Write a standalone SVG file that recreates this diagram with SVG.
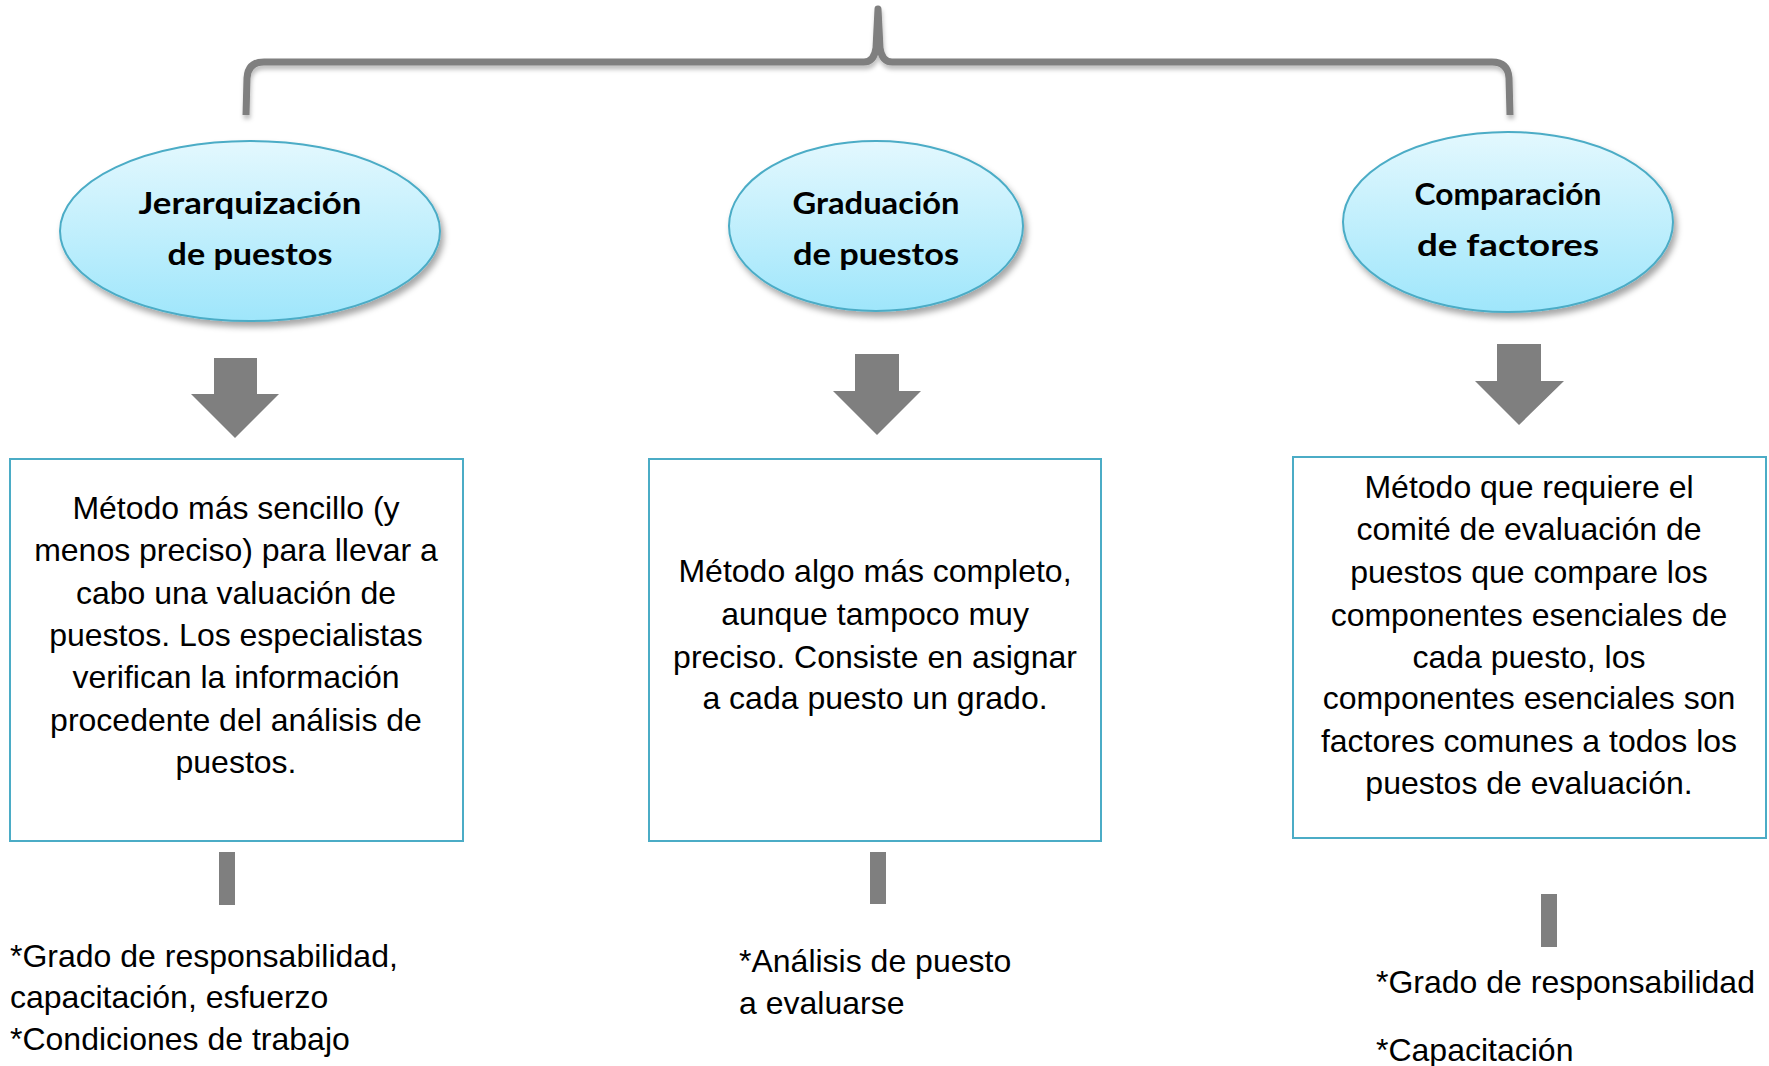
<svg xmlns="http://www.w3.org/2000/svg" width="1769" height="1066" viewBox="0 0 1769 1066">
<defs>
<linearGradient id="ell" x1="0" y1="0" x2="0" y2="1">
<stop offset="0" stop-color="#E3F8FE"/>
<stop offset="1" stop-color="#9FE6FB"/>
</linearGradient>
<filter id="sh" x="-10%" y="-10%" width="125%" height="130%">
<feDropShadow dx="3" dy="5" stdDeviation="3" flood-color="#000" flood-opacity="0.35"/>
</filter>
<filter id="lsh" x="-5%" y="-20%" width="110%" height="160%">
<feDropShadow dx="1" dy="4" stdDeviation="2" flood-color="#000" flood-opacity="0.25"/>
</filter>
</defs>
<style>
.ell{fill:url(#ell);stroke:#4BACC6;stroke-width:2;filter:url(#sh)}
.box{fill:#fff;stroke:#4BACC6;stroke-width:2}
.arr{fill:#7F7F7F}
.bar{fill:#7F7F7F}
.t{font-family:"Comic Sans MS","Lato","Liberation Sans",sans-serif;font-weight:bold;font-size:31px;fill:#000;text-anchor:middle}
.b{font-family:"Liberation Sans",Arial,sans-serif;font-size:32px;fill:#000;text-anchor:middle}
.l{font-family:"Liberation Sans",Arial,sans-serif;font-size:32px;fill:#000}
</style>
<rect width="1769" height="1066" fill="#fff"/>
<g id="connectors">
<path d="M246,115 L247,78 Q248,62 264,62 L864,62 Q874,62 876,48 L878,9 L880,48 Q882,62 892,62 L1492,62 Q1508,62 1509,78 L1510,115" fill="none" stroke="#7F7F7F" stroke-width="7" stroke-linejoin="round" filter="url(#lsh)"/>
<polygon class="arr" points="214,358 257,358 257,394 279,394 235,438 191,394 214,394"/>
<polygon class="arr" points="855,354 899,354 899,391 921,391 877,435 833,391 855,391"/>
<polygon class="arr" points="1497,344 1541,344 1541,381 1564,381 1519,425 1475,381 1497,381"/>
<rect class="bar" x="219" y="852" width="16" height="53"/>
<rect class="bar" x="870" y="852" width="16" height="52"/>
<rect class="bar" x="1541" y="894" width="16" height="53"/>
</g>
<g id="node-jerarquizacion">
<ellipse class="ell" cx="250" cy="231" rx="190" ry="90"/>
<text class="t" x="250" y="214" textLength="223" lengthAdjust="spacingAndGlyphs">Jerarquización</text>
<text class="t" x="250" y="265" textLength="165" lengthAdjust="spacingAndGlyphs">de puestos</text>
</g>
<g id="node-graduacion">
<ellipse class="ell" cx="876" cy="226" rx="147" ry="85"/>
<text class="t" x="876" y="214" textLength="167" lengthAdjust="spacingAndGlyphs">Graduación</text>
<text class="t" x="876" y="265" textLength="166" lengthAdjust="spacingAndGlyphs">de puestos</text>
</g>
<g id="node-comparacion">
<ellipse class="ell" cx="1508" cy="222" rx="165" ry="90"/>
<text class="t" x="1508" y="205" textLength="187" lengthAdjust="spacingAndGlyphs">Comparación</text>
<text class="t" x="1508" y="256" textLength="182" lengthAdjust="spacingAndGlyphs">de factores</text>
</g>
<g id="box-jerarquizacion">
<rect class="box" x="10" y="459" width="453" height="382"/>
<text class="b" x="236" y="519">Método más sencillo (y</text>
<text class="b" x="236" y="561">menos preciso) para llevar a</text>
<text class="b" x="236" y="604">cabo una valuación de</text>
<text class="b" x="236" y="646">puestos. Los especialistas</text>
<text class="b" x="236" y="688">verifican la información</text>
<text class="b" x="236" y="731">procedente del análisis de</text>
<text class="b" x="236" y="773">puestos.</text>
</g>
<g id="box-graduacion">
<rect class="box" x="649" y="459" width="452" height="382"/>
<text class="b" x="875" y="582">Método algo más completo,</text>
<text class="b" x="875" y="625">aunque tampoco muy</text>
<text class="b" x="875" y="668">preciso. Consiste en asignar</text>
<text class="b" x="875" y="709">a cada puesto un grado.</text>
</g>
<g id="box-comparacion">
<rect class="box" x="1293" y="457" width="473" height="381"/>
<text class="b" x="1529" y="498">Método que requiere el</text>
<text class="b" x="1529" y="540">comité de evaluación de</text>
<text class="b" x="1529" y="583">puestos que compare los</text>
<text class="b" x="1529" y="626">componentes esenciales de</text>
<text class="b" x="1529" y="668">cada puesto, los</text>
<text class="b" x="1529" y="709">componentes esenciales son</text>
<text class="b" x="1529" y="752">factores comunes a todos los</text>
<text class="b" x="1529" y="794">puestos de evaluación.</text>
</g>
<g id="list-jerarquizacion">
<text class="l" x="10" y="967">*Grado de responsabilidad,</text>
<text class="l" x="10" y="1008">capacitación, esfuerzo</text>
<text class="l" x="10" y="1050">*Condiciones de trabajo</text>
</g>
<g id="list-graduacion">
<text class="l" x="739" y="972">*Análisis de puesto</text>
<text class="l" x="739" y="1014">a evaluarse</text>
</g>
<g id="list-comparacion">
<text class="l" x="1376" y="993">*Grado de responsabilidad</text>
<text class="l" x="1376" y="1061">*Capacitación</text>
</g>
</svg>
